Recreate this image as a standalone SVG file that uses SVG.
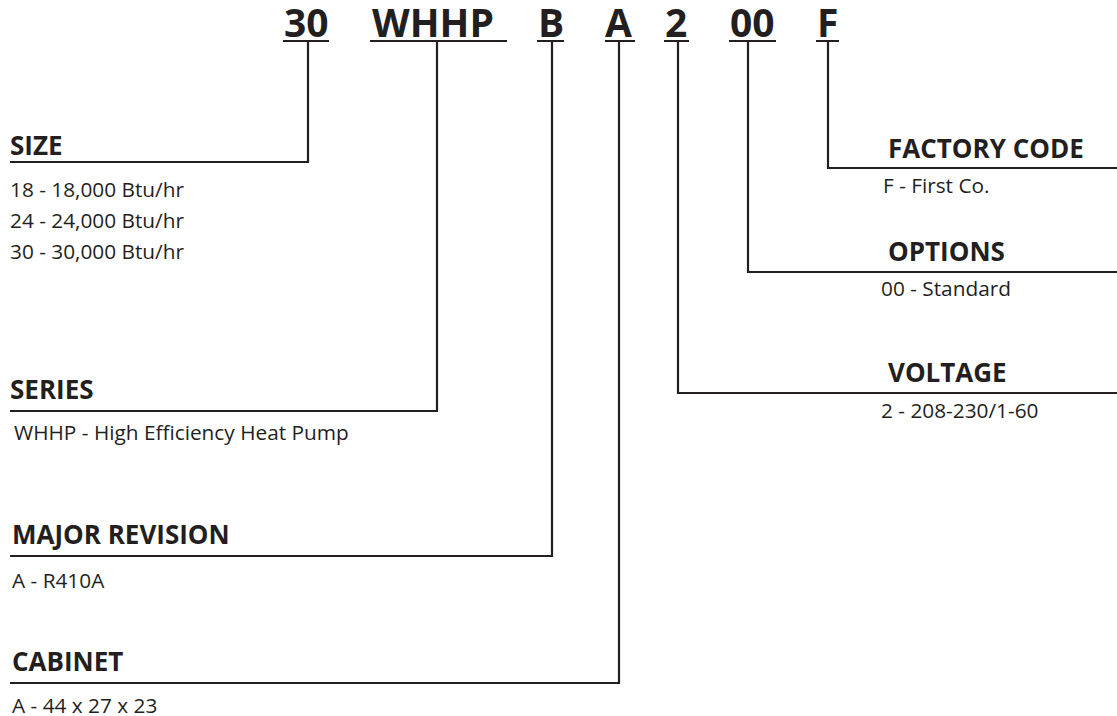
<svg xmlns="http://www.w3.org/2000/svg" width="1117" height="716" viewBox="0 0 1117 716">
<style>
.code{font-family:"Open Sans","Liberation Sans",sans-serif;font-weight:bold;font-size:39px;fill:#231f20}
.h{font-family:"Open Sans","Liberation Sans",sans-serif;font-weight:bold;font-size:26px;fill:#231f20}
.t{font-family:"Open Sans","Liberation Sans",sans-serif;font-size:20.8px;fill:#231f20}
.ln{stroke:#231f20;stroke-width:2.2;fill:none}
</style>
<rect width="1117" height="716" fill="#fff"/>
<g id="code">
<text class="code" x="284" y="37">30</text>
<text class="code" x="372" y="37">WHHP</text>
<text class="code" x="538" y="37">B</text>
<text class="code" x="605" y="37">A</text>
<text class="code" x="665" y="37">2</text>
<text class="code" x="730" y="37">00</text>
<text class="code" x="817" y="37">F</text>
<path class="ln" d="M283 41H329M370 41H507M537 41H564M605 41H635M664 41H689M729 41H776M816 41H839"/>
</g>
<g id="connectors">
<path class="ln" d="M308 41V162H10"/>
<path class="ln" d="M437 41V411H10"/>
<path class="ln" d="M552 41V556H10"/>
<path class="ln" d="M619 41V683H10"/>
<path class="ln" d="M678 41V393H1117"/>
<path class="ln" d="M748 41V272H1117"/>
<path class="ln" d="M828 41V168H1117"/>
</g>
<g id="size">
<text class="h" x="10" y="155">SIZE</text>
<text class="t" x="10" y="197">18 - 18,000 Btu/hr</text>
<text class="t" x="10" y="228">24 - 24,000 Btu/hr</text>
<text class="t" x="10" y="259">30 - 30,000 Btu/hr</text>
</g>
<g id="series">
<text class="h" x="10" y="399">SERIES</text>
<text class="t" x="14" y="440">WHHP - High Efficiency Heat Pump</text>
</g>
<g id="major-revision">
<text class="h" x="12" y="544">MAJOR REVISION</text>
<text class="t" x="12" y="588">A - R410A</text>
</g>
<g id="cabinet">
<text class="h" x="12" y="671">CABINET</text>
<text class="t" x="12" y="713">A - 44 x 27 x 23</text>
</g>
<g id="factory-code">
<text class="h" x="888" y="158">FACTORY CODE</text>
<text class="t" x="883" y="193">F - First Co.</text>
</g>
<g id="options">
<text class="h" x="888" y="261">OPTIONS</text>
<text class="t" x="881" y="296">00 - Standard</text>
</g>
<g id="voltage">
<text class="h" x="888" y="382">VOLTAGE</text>
<text class="t" x="881" y="418">2 - 208-230/1-60</text>
</g>
</svg>
